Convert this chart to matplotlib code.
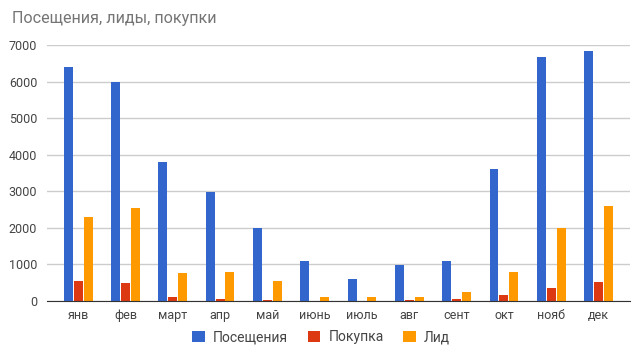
import matplotlib
matplotlib.use("Agg")
import matplotlib.pyplot as plt
import numpy as np

plt.rcParams['font.family'] = ['Roboto', 'DejaVu Sans']

months = ["янв", "фев", "март", "апр", "май", "июнь", "июль", "авг", "сент", "окт", "нояб", "дек"]
visits = [6400, 5980, 3800, 2980, 2000, 1100, 610, 990, 1100, 3610, 6680, 6840]
purchases = [550, 490, 120, 65, 30, 0, 0, 30, 60, 160, 360, 520]
leads = [2300, 2550, 770, 800, 550, 120, 120, 120, 250, 800, 2000, 2600]

series = [("Посещения", visits, "#3366cc"),
          ("Покупка", purchases, "#dc3912"),
          ("Лид", leads, "#ff9900")]

fig = plt.figure(figsize=(6.42, 3.6), dpi=100)
ax = fig.add_axes([0.073, 0.164, 0.908, 0.711])

x = np.arange(len(months))
width = 0.19
for i, (name, vals, color) in enumerate(series):
    ax.bar(x + (i - 1) * 0.21, vals, width, color=color, label=name, zorder=3)

ax.set_xlim(-0.66, 11.66)
ax.set_ylim(0, 7000)
ax.set_yticks(range(0, 7001, 1000))
ax.set_xticks(x)
ax.set_xticklabels(months)
ax.tick_params(length=0, labelsize=9, labelcolor="#444444")
ax.tick_params(axis='y', pad=7)
ax.tick_params(axis='x', pad=6)
ax.grid(axis='y', color="#cccccc", linewidth=1, zorder=0)
for s in ["top", "right", "left"]:
    ax.spines[s].set_visible(False)
ax.spines["bottom"].set_color("#333333")
ax.spines["bottom"].set_zorder(4)

fig.text(0.019, 0.95, "Посещения, лиды, покупки", fontsize=11.6, color="#757575", va="center")

fig.legend(loc="center", bbox_to_anchor=(0.5, 0.063), ncol=3, frameon=False,
           fontsize=10, labelcolor="#444444", handlelength=0.9, handleheight=0.9,
           handletextpad=0.6, columnspacing=1.4)

fig.savefig("out.png", dpi=100)
